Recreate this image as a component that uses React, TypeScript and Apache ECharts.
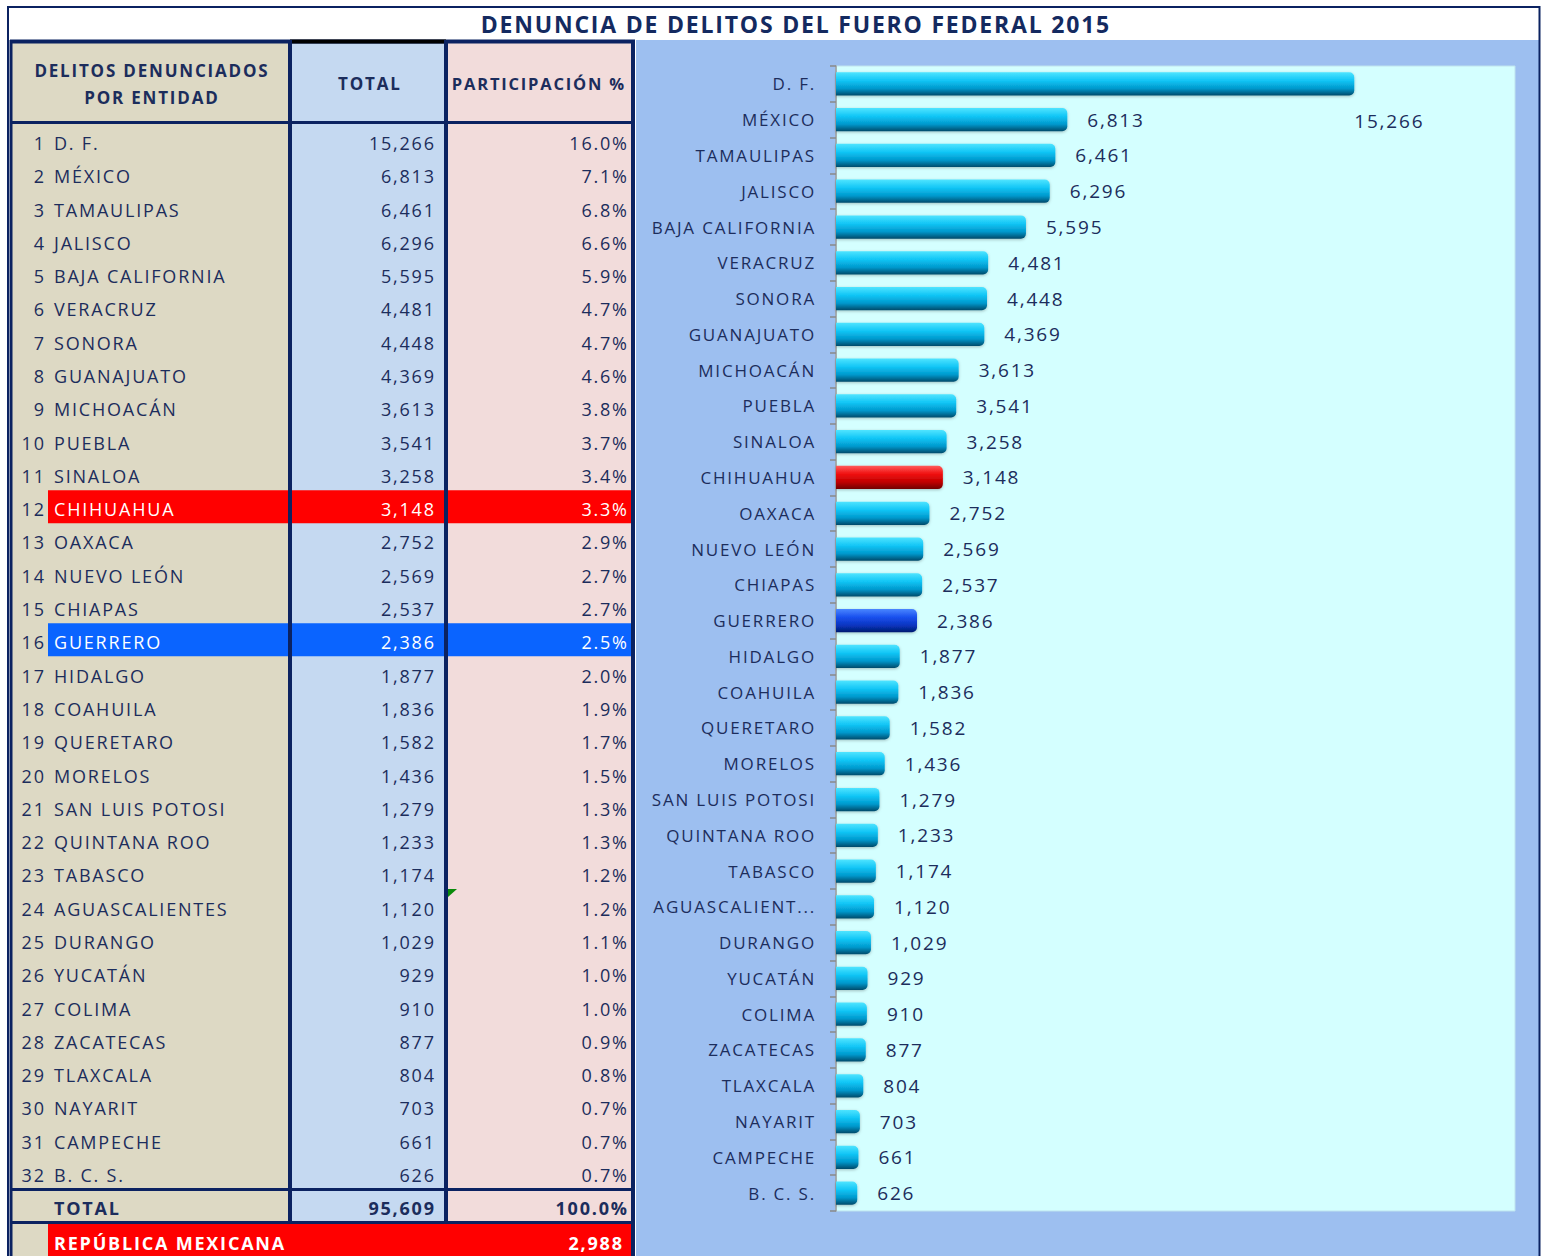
import React, { useEffect, useRef } from "react";
import * as echarts from "echarts";

const W = 1541;
const H = 1256;

const title = "DENUNCIA DE DELITOS DEL FUERO FEDERAL 2015";
const headerEntity = ["DELITOS DENUNCIADOS", "POR ENTIDAD"];
const headerTotal = "TOTAL";
const headerShare = "PARTICIPACIÓN %";

const entities = [
  "D. F.", "MÉXICO", "TAMAULIPAS", "JALISCO", "BAJA CALIFORNIA", "VERACRUZ", "SONORA", "GUANAJUATO",
  "MICHOACÁN", "PUEBLA", "SINALOA", "CHIHUAHUA", "OAXACA", "NUEVO LEÓN", "CHIAPAS", "GUERRERO",
  "HIDALGO", "COAHUILA", "QUERETARO", "MORELOS", "SAN LUIS POTOSI", "QUINTANA ROO", "TABASCO",
  "AGUASCALIENTES", "DURANGO", "YUCATÁN", "COLIMA", "ZACATECAS", "TLAXCALA", "NAYARIT", "CAMPECHE", "B. C. S.",
];
const totals = [
  15266, 6813, 6461, 6296, 5595, 4481, 4448, 4369, 3613, 3541, 3258, 3148, 2752, 2569, 2537, 2386,
  1877, 1836, 1582, 1436, 1279, 1233, 1174, 1120, 1029, 929, 910, 877, 804, 703, 661, 626,
];
const shares = [
  16.0, 7.1, 6.8, 6.6, 5.9, 4.7, 4.7, 4.6, 3.8, 3.7, 3.4, 3.3, 2.9, 2.7, 2.7, 2.5,
  2.0, 1.9, 1.7, 1.5, 1.3, 1.3, 1.2, 1.2, 1.1, 1.0, 1.0, 0.9, 0.8, 0.7, 0.7, 0.7,
];
const totalLabel = "TOTAL";
const grandTotal = 95609;
const grandShare = 100.0;
const nationalLabel = "REPÚBLICA MEXICANA";
const nationalValue = 2988;
const redEntity = "CHIHUAHUA";
const blueEntity = "GUERRERO";
const truncatedEntity = "AGUASCALIENTES";

const NAVY = "#0b2261";
const TXT = "#1c2d5c";
const FONT = "Open Sans";
const LS = 1.8;

const fmt = (v: number) => v.toLocaleString("en-US");

const grad = (stops: string[]) =>
  new echarts.graphic.LinearGradient(0, 0, 0, 1, [
    { offset: 0, color: stops[0] },
    { offset: 0.35, color: stops[1] },
    { offset: 0.7, color: stops[2] },
    { offset: 1, color: stops[3] },
  ]);

function text(x: number, y: number, t: string, opts: any = {}) {
  const align = opts.align || "left";
  const dx = align === "right" ? LS : align === "center" ? LS / 2 : 0;
  return {
    type: "text",
    x: x + dx,
    y,
    z: 20,
    silent: true,
    style: {
      text: t,
      fill: opts.fill || TXT,
      fontSize: opts.fontSize || 18,
      fontWeight: opts.fontWeight || "normal",
      fontFamily: FONT,
      align,
      textAlign: align,
      verticalAlign: "middle",
      textVerticalAlign: "middle",
    },
  };
}

function rect(x: number, y: number, w: number, h: number, fill: string, z = -5, extra: any = {}) {
  return { type: "rect", z, silent: true, shape: { x, y, width: w, height: h }, style: { fill, ...extra } };
}

function line(x1: number, y1: number, x2: number, y2: number, color: string, w: number) {
  return { type: "line", z: 15, silent: true, shape: { x1, y1, x2, y2 }, style: { stroke: color, lineWidth: w } };
}

function buildOption() {
  const rowCenter = (i: number) => 143 + i * 33.29;
  const g: any[] = [];
  g.push(rect(8, 7, 1532, 33, "#ffffff", -10));
  g.push(rect(12, 40, 278, 1216, "#ddd9c4", -8));
  g.push(rect(290, 40, 156, 1183, "#c5d9f1", -8));
  g.push(rect(446, 40, 187, 1183, "#f2dcdb", -8));
  g.push(rect(636, 40, 903, 1216, "#9dbff0", -8));
  g.push(rect(836, 66, 679, 1145, "#d4ffff", -7, { stroke: "#bfe3ee", lineWidth: 1 }));

  entities.forEach((name, i) => {
    const c = rowCenter(i);
    let hl: string | null = null;
    if (name === redEntity) hl = "#ff0000";
    if (name === blueEntity) hl = "#0a64ff";
    if (hl) g.push(rect(48, c - 19, 585, 33, hl, -6));
    const fill = hl ? "#ffffff" : TXT;
    g.push(text(44, c, String(i + 1), { align: "right" }));
    g.push(text(54, c, name, { fill }));
    g.push(text(434, c, fmt(totals[i]), { align: "right", fill }));
    g.push(text(627, c, shares[i].toFixed(1) + "%", { align: "right", fill }));
  });

  g.push(text(54, 1208, totalLabel, { fontWeight: "bold" }));
  g.push(text(434, 1208, fmt(grandTotal), { align: "right", fontWeight: "bold" }));
  g.push(text(627, 1208, grandShare.toFixed(1) + "%", { align: "right", fontWeight: "bold" }));
  g.push(rect(48, 1224, 585, 32, "#ff0000", -6));
  g.push(text(54, 1243, nationalLabel, { fontWeight: "bold", fill: "#ffffff" }));
  g.push(text(622, 1243, fmt(nationalValue), { align: "right", fontWeight: "bold", fill: "#ffffff" }));

  g.push(text(151, 70, headerEntity[0], { align: "center", fontWeight: "bold", fontSize: 17 }));
  g.push(text(151, 97, headerEntity[1], { align: "center", fontWeight: "bold", fontSize: 17 }));
  g.push(text(369, 83, headerTotal, { align: "center", fontWeight: "bold", fontSize: 17 }));
  g.push(text(538, 83, headerShare, { align: "center", fontWeight: "bold", fontSize: 16.5 }));
  g.push(text(795, 24, title, { align: "center", fontWeight: "bold", fontSize: 23, fill: "#142a60" }));

  g.push({ type: "rect", z: 16, silent: true, shape: { x: 8, y: 7, width: 1531.5, height: 1260 }, style: { fill: "none", stroke: NAVY, lineWidth: 2 } });
  g.push(line(10, 41.5, 635, 41.5, NAVY, 4));
  g.push(line(290, 41.5, 446, 41.5, "#000000", 4));
  g.push(line(10, 122.5, 635, 122.5, NAVY, 3));
  g.push(line(10, 1189.5, 635, 1189.5, NAVY, 3));
  g.push(line(10, 1222.5, 635, 1222.5, NAVY, 3));
  g.push(line(11, 40, 11, 1256, NAVY, 3));
  g.push(line(290, 40, 290, 1224, NAVY, 4));
  g.push(line(446, 40, 446, 1224, NAVY, 4));
  g.push(line(633, 40, 633, 1256, NAVY, 4));
  g.push({ type: "polygon", z: 17, silent: true, shape: { points: [[448, 889], [457, 889], [448, 897]] }, style: { fill: "#0a8a0a" } });

  const cyan = grad(["#4fe4ff", "#12c6f6", "#0098cc", "#004a6a"]);
  const red = grad(["#ff5a5a", "#f01010", "#c00000", "#700000"]);
  const blue = grad(["#4a86ff", "#1a50ee", "#0a34c0", "#001c70"]);

  const data = totals.map((v, i) => {
    const item: any = { value: v };
    if (entities[i] === redEntity) item.itemStyle = { color: red };
    else if (entities[i] === blueEntity) item.itemStyle = { color: blue };
    if (i === 0) item.label = { offset: [-20, 37] };
    return item;
  });

  const yData = entities.map((n) =>
    n === truncatedEntity
      ? { value: n, textStyle: { width: 138, overflow: "truncate", ellipsis: "..." } }
      : n
  );

  return {
    animation: false,
    graphic: { elements: g },
    grid: { left: 836, top: 66, width: 679, height: 1145, containLabel: false },
    xAxis: { type: "value", min: 0, max: 20000, show: false, splitLine: { show: false } },
    yAxis: {
      type: "category",
      inverse: true,
      data: yData,
      axisLine: { show: true, lineStyle: { color: "#9a9a9a", width: 1.5 } },
      axisTick: { show: true, length: 6, lineStyle: { color: "#8a8a8a", width: 1.5 } },
      axisLabel: {
        margin: 20,
        color: TXT,
        fontSize: 17,
        fontFamily: FONT,
      },
    },
    series: [
      {
        type: "bar",
        data,
        barWidth: "65%",
        itemStyle: { color: cyan, borderRadius: [0, 5, 5, 0], shadowColor: "rgba(0,0,0,0.25)", shadowBlur: 3, shadowOffsetY: 1 },
        label: {
          show: true,
          position: "right",
          distance: 20,
          color: TXT,
          fontSize: 19,
          fontFamily: FONT,
          formatter: (p: any) => fmt(p.value),
        },
      },
    ],
  };
}

export default function App() {
  const ref = useRef<HTMLDivElement>(null);
  useEffect(() => {
    const chart = echarts.init(ref.current!, null, { renderer: "svg" });
    chart.setOption(buildOption() as any);
    return () => chart.dispose();
  }, []);
  return (
    <div
      ref={ref}
      style={{ position: "absolute", left: 0, top: 0, width: W, height: H, letterSpacing: LS + "px" }}
    />
  );
}
